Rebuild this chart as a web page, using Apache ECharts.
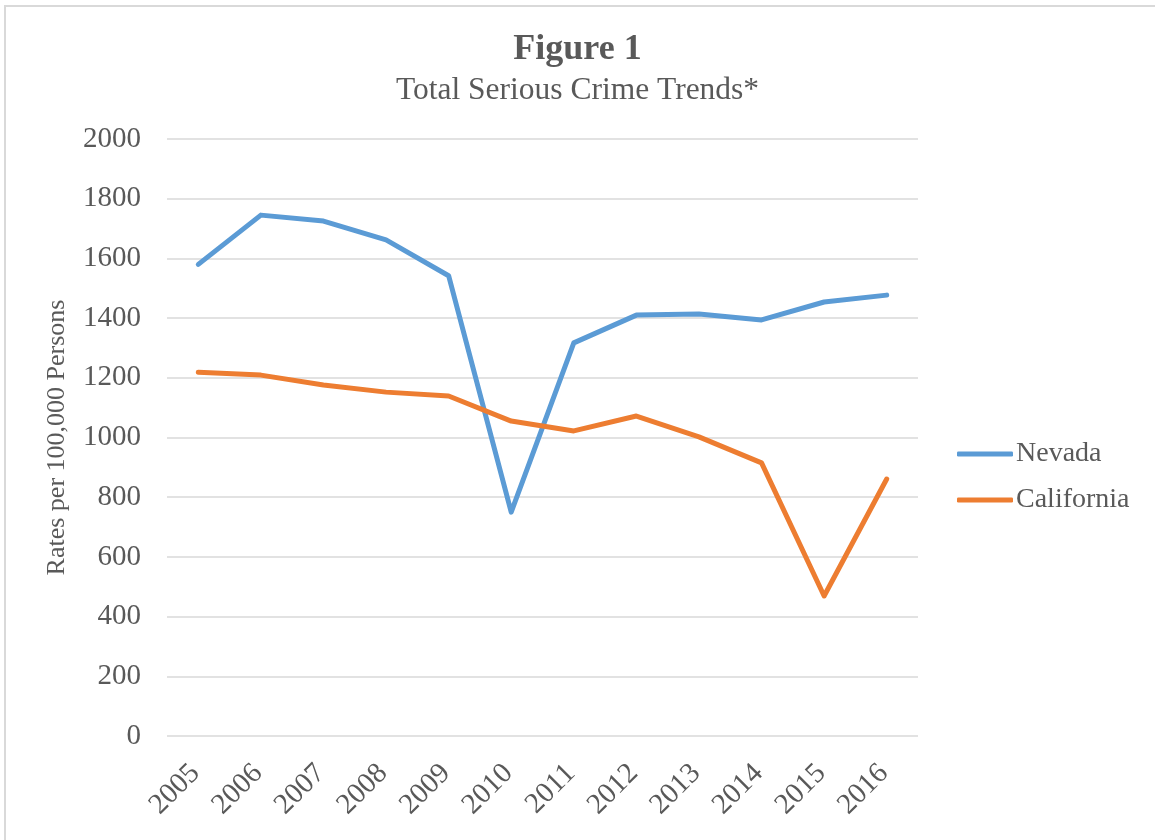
<!DOCTYPE html>
<html>
<head>
<meta charset="utf-8">
<script src="https://cdn.jsdelivr.net/npm/echarts@6/dist/echarts.min.js"></script>
<style>
html,body{margin:0;padding:0;background:#fff;}
#chart{width:1155px;height:840px;}
</style>
</head>
<body>
<div id="chart"></div>
<script>
const years = ['2005','2006','2007','2008','2009','2010','2011','2012','2013','2014','2015','2016'];
const nevada = [1580, 1745, 1725, 1662, 1542, 750, 1317, 1410, 1414, 1394, 1454, 1477];
const california = [1219, 1209, 1176, 1152, 1139, 1055, 1022, 1072, 1002, 915, 469, 861];
const yTicks = { min: 0, max: 2000, interval: 200 };

const font = '"Liberation Serif", "Times New Roman", serif';
const txt = '#595959';
const chart = echarts.init(document.getElementById('chart'), null, {renderer: 'canvas'});
chart.setOption({
  backgroundColor: '#fff',
  animation: false,
  graphic: [{
    type: 'rect', shape: {x: 5, y: 6, width: 1200, height: 900},
    style: {fill: 'none', stroke: '#d9d9d9', lineWidth: 2}, silent: true
  }],
  title: [
    {text: 'Figure 1', left: 'center', top: 27,
     textStyle: {fontFamily: font, fontSize: 36, fontWeight: 'bold', color: txt}},
    {text: 'Total Serious Crime Trends*', left: 'center', top: 70,
     textStyle: {fontFamily: font, fontSize: 31.5, fontWeight: 'normal', color: txt}}
  ],
  legend: {
    orient: 'vertical', left: 952, top: 435, itemGap: 18,
    icon: 'roundRect', itemWidth: 56, itemHeight: 5,
    textStyle: {fontFamily: font, fontSize: 28, color: txt, padding: [0,0,0,-2]},
    data: ['Nevada', 'California']
  },
  grid: {left: 167, right: 237, top: 139, bottom: 104, containLabel: false},
  xAxis: {
    type: 'category', data: years, boundaryGap: true,
    axisLine: {show: false}, axisTick: {show: false},
    axisLabel: {rotate: 45, fontFamily: font, fontSize: 29, color: txt, margin: 30, padding: [0, 4, 0, 0]}
  },
  yAxis: {
    type: 'value', min: yTicks.min, max: yTicks.max, interval: yTicks.interval,
    name: 'Rates per 100,000 Persons', nameLocation: 'middle', nameGap: 97,
    nameTextStyle: {fontFamily: font, fontSize: 26, color: txt},
    axisLine: {show: false}, axisTick: {show: false},
    axisLabel: {fontFamily: font, fontSize: 29, color: txt, margin: 26,
                formatter: function (v) { return String(v); }},
    splitLine: {lineStyle: {color: '#d9d9d9', width: 1.5}}
  },
  series: [
    {name: 'Nevada', type: 'line', data: nevada, symbol: 'none',
     lineStyle: {color: '#5b9bd5', width: 5, cap: 'round', join: 'round'},
     itemStyle: {color: '#5b9bd5'}},
    {name: 'California', type: 'line', data: california, symbol: 'none',
     lineStyle: {color: '#ed7d31', width: 5, cap: 'round', join: 'round'},
     itemStyle: {color: '#ed7d31'}}
  ]
});
</script>
</body>
</html>
